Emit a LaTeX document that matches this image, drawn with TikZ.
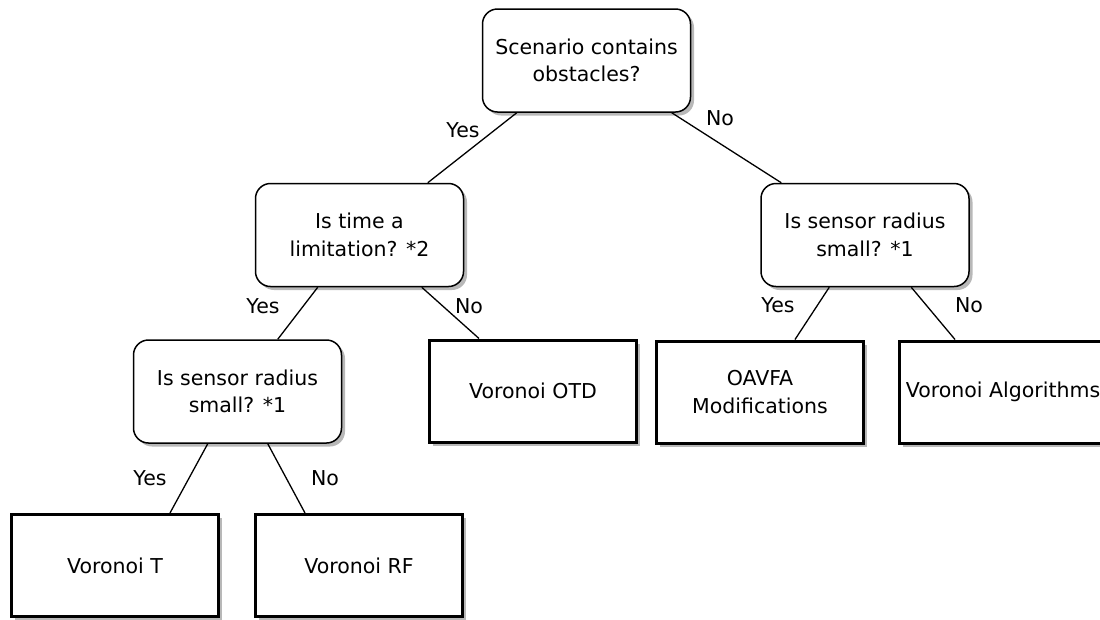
\documentclass[tikz,border=0pt]{standalone}
\usepackage{fontspec}
\setmainfont{DejaVu Sans}
\usetikzlibrary{shadows}
\begin{document}
\begin{tikzpicture}[x=1pt,y=-1pt,
  every node/.style={font=\fontsize{20.5}{27.5}\selectfont, inner sep=0pt},
  shadowed/.style={drop shadow={shadow xshift=3.5pt, shadow yshift=-3.5pt, fill=black!28, opacity=1}},
  decision/.style={draw, rounded corners=15pt, line width=1.5pt, fill=white, shadowed,
    minimum width=208pt, minimum height=103pt, align=center},
  result/.style={draw, line width=3pt, fill=white, shadowed,
    minimum width=207pt, minimum height=102pt, align=center},
  conn/.style={line width=1.3pt},
  lbl/.style={}
]
\useasboundingbox (0,0) rectangle (1100,619);
\clip (0,0) rectangle (1100,619);

\node[decision] (root) at (586.5,60.5) {Scenario contains\\obstacles?};
\node[decision] (dtime) at (359.5,235) {Is time a\\limitation? *2};
\node[decision] (dsens) at (865,235) {Is sensor radius\\small? *1};
\node[decision] (dsens2) at (237.5,391.5) {Is sensor radius\\small? *1};
\node[result] (otd) at (533,391) {Voronoi OTD};
\node[result] (oavfa) at (760,392) {OAVFA\\Modifications};
\node[result] (valg) at (1003,392) {Voronoi Algorithms};
\node[result] (vt) at (115,565.5) {Voronoi T};
\node[result] (vrf) at (359,565.5) {Voronoi RF};

\draw[conn] ([xshift=35pt]root.south west) -- ([xshift=173pt]dtime.north west);
\draw[conn] ([xshift=190pt]root.south west) -- ([xshift=21pt]dsens.north west);
\draw[conn] ([xshift=63pt]dtime.south west) -- ([xshift=145pt]dsens2.north west);
\draw[conn] ([xshift=167pt]dtime.south west) -- ([xshift=51pt]otd.north west);
\draw[conn] ([xshift=69pt]dsens.south west) -- ([xshift=140pt]oavfa.north west);
\draw[conn] ([xshift=151pt]dsens.south west) -- ([xshift=57pt]valg.north west);
\draw[conn] ([xshift=75pt]dsens2.south west) -- ([xshift=160pt]vt.north west);
\draw[conn] ([xshift=135pt]dsens2.south west) -- ([xshift=51pt]vrf.north west);

\node[lbl] (yes1) at (463,130) {Yes};
\node[lbl] (no1) at (720,118) {No};
\node[lbl] (yes2) at (263,306) {Yes};
\node[lbl] (no2) at (469,306) {No};
\node[lbl] (yes3) at (778,305) {Yes};
\node[lbl] (no3) at (969,305) {No};
\node[lbl] (yes4) at (150,478) {Yes};
\node[lbl] (no4) at (325,478) {No};
\end{tikzpicture}
\end{document}
